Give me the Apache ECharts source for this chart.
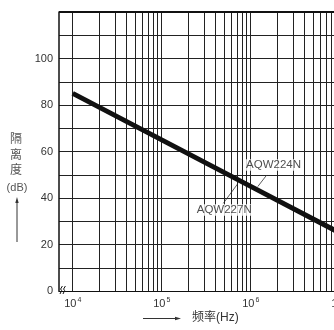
<!DOCTYPE html>
<html>
<head>
<meta charset="utf-8">
<script src="https://cdn.jsdelivr.net/npm/echarts@6/dist/echarts.min.js"></script>
<style>
  html, body { margin: 0; padding: 0; background: #fff; }
  #chart { width: 334px; height: 330px; }
</style>
</head>
<body>
<div id="chart"></div>
<script>
// Isolation vs frequency (log frequency scale, drawn on log10 values)
var lineFreq = [1e4, 1e5, 1e6, 1e7];
var lineDb = [85, 65, 45, 25];

// Decade tick labels (exponents of 10)
var decadeExp = [4, 5, 6, 7];

// Minor/major vertical grid frequencies: 1..9 x 10^n
var gridMultipliers = [1, 2, 3, 4, 5, 6, 7, 8, 9];
var gridDecades = [1e4, 1e5, 1e6];

// Part-number callouts: text anchor and leader line ends
var partNames = ['AQW224N', 'AQW227N'];
var partFreq = [1.807e6, 5.04e5];
var partDb = [54.2, 34.8];
var leaderFrom = [[1.514e6, 49.9], [4.92e5, 37.7]];
var leaderTo = [[1.2e6, 44.9], [7.14e5, 46.1]];

var X_MIN = 3.846, X_MAX = 7;
var FONT = 'Liberation Sans, Noto Sans CJK SC, sans-serif';

var gridFreqs = [];
gridDecades.forEach(function (d) {
  gridMultipliers.forEach(function (m) { gridFreqs.push(m * d); });
});
gridFreqs.push(1e7);

var vLines = gridFreqs.map(function (f) { return { xAxis: Math.log10(f) }; });

var mainData = lineFreq.map(function (f, i) { return [Math.log10(f), lineDb[i]]; });

var calloutData = partNames.map(function (n, i) {
  return { value: [Math.log10(partFreq[i]), partDb[i]], name: n };
});

var leaderSeries = leaderFrom.map(function (p, i) {
  return {
    type: 'line',
    data: [[Math.log10(p[0]), p[1]], [Math.log10(leaderTo[i][0]), leaderTo[i][1]]],
    symbol: 'none',
    silent: true,
    z: 4,
    lineStyle: { color: '#333', width: 0.8 }
  };
});

var chart = echarts.init(document.getElementById('chart'), null, { renderer: 'canvas' });

chart.setOption({
  animation: false,
  backgroundColor: '#fff',
  grid: {
    left: 59, top: 12, width: (X_MAX - X_MIN) * 89, height: 279,
    containLabel: false, outerBoundsMode: 'none'
  },
  xAxis: {
    type: 'value',
    min: X_MIN,
    max: X_MAX,
    axisLine: { show: true, lineStyle: { color: '#111', width: 1.2 } },
    axisTick: { show: false },
    splitLine: { show: false },
    axisLabel: {
      customValues: decadeExp,
      margin: 6,
      formatter: function (v) { return '10{s|' + Math.round(v) + '}'; },
      color: '#333',
      fontSize: 11,
      fontFamily: FONT,
      rich: {
        s: { fontSize: 7, verticalAlign: 'top', padding: [0, 0, 6, 1], color: '#333', fontFamily: FONT }
      }
    }
  },
  yAxis: {
    type: 'value',
    min: 0,
    max: 120,
    interval: 10,
    axisLine: { show: true, lineStyle: { color: '#111', width: 1.5 } },
    axisTick: { show: false },
    splitLine: { show: true, lineStyle: { color: '#222', width: 1 } },
    axisLabel: {
      margin: 6,
      color: '#333',
      fontSize: 11,
      fontFamily: FONT,
      formatter: function (v) { return (v % 20 === 0 && v < 120) ? String(v) : ''; }
    }
  },
  series: [
    {
      type: 'line',
      data: [],
      silent: true,
      markLine: {
        silent: true,
        symbol: 'none',
        label: { show: false },
        lineStyle: { color: '#222', width: 1, type: 'solid' },
        data: vLines.concat([{ yAxis: 120, lineStyle: { width: 2, color: '#111' } }])
      }
    },
    {
      type: 'line',
      data: mainData,
      symbol: 'none',
      z: 5,
      clip: true,
      lineStyle: { color: '#111', width: 5, cap: 'butt' }
    },
    {
      type: 'scatter',
      data: calloutData,
      symbolSize: 0,
      z: 6,
      label: {
        show: true,
        position: 'inside',
        formatter: '{b}',
        color: '#222',
        fontSize: 11.5,
        fontFamily: FONT,
        backgroundColor: '#fff',
        padding: [0, 1]
      }
    }
  ].concat(leaderSeries),
  graphic: [
    // axis break mark
    { type: 'polyline', shape: { points: [[60, 294], [61.6, 290.5], [60.6, 289], [62.4, 286]] }, style: { stroke: '#111', lineWidth: 1, fill: null }, z: 10 },
    { type: 'polyline', shape: { points: [[63, 294], [64.6, 290.5], [63.6, 289], [65.4, 286]] }, style: { stroke: '#111', lineWidth: 1, fill: null }, z: 10 },
    // y title
    { type: 'text', style: { text: '隔', x: 16, y: 140, fill: '#555', fontSize: 12, fontFamily: FONT, align: 'center', verticalAlign: 'middle' } },
    { type: 'text', style: { text: '离', x: 16, y: 155.5, fill: '#555', fontSize: 12, fontFamily: FONT, align: 'center', verticalAlign: 'middle' } },
    { type: 'text', style: { text: '度', x: 16, y: 170.5, fill: '#555', fontSize: 12, fontFamily: FONT, align: 'center', verticalAlign: 'middle' } },
    { type: 'text', style: { text: '(dB)', x: 17, y: 188, fill: '#555', fontSize: 11, fontFamily: FONT, align: 'center', verticalAlign: 'middle' } },
    { type: 'line', shape: { x1: 17, y1: 242, x2: 17, y2: 201 }, style: { stroke: '#333', lineWidth: 1 } },
    { type: 'polygon', shape: { points: [[17, 197], [15.3, 203], [18.7, 203]] }, style: { fill: '#333' } },
    // x title
    { type: 'line', shape: { x1: 143, y1: 318.5, x2: 176, y2: 318.5 }, style: { stroke: '#333', lineWidth: 1 } },
    { type: 'polygon', shape: { points: [[181, 318.5], [175, 316.8], [175, 320.2]] }, style: { fill: '#333' } },
    { type: 'text', style: { text: '频率(Hz)', x: 192, y: 318, fill: '#333', fontSize: 12, fontFamily: FONT, align: 'left', verticalAlign: 'middle' } }
  ]
});
</script>
</body>
</html>
